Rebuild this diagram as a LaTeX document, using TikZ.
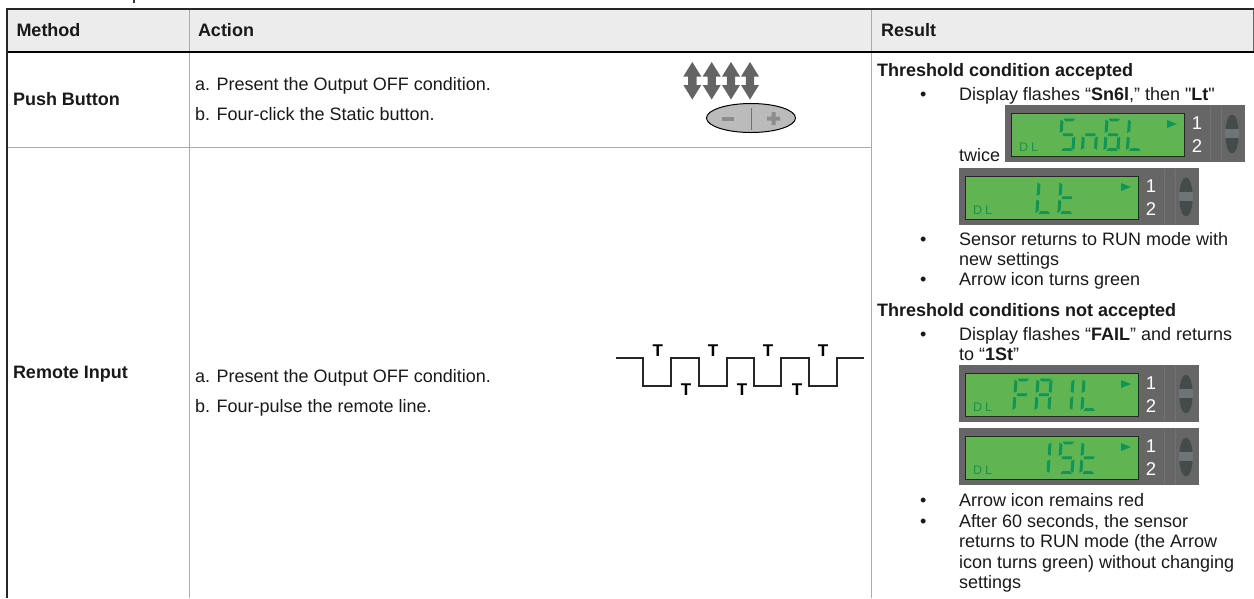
\documentclass[tikz,border=0pt]{standalone}
\usepackage{fontspec}
\setmainfont{Liberation Sans}[Ligatures=TeXOff]
\definecolor{hdr}{HTML}{ECECEC}
\definecolor{rule}{HTML}{ABABAB}
\definecolor{body}{HTML}{666666}
\definecolor{lcd}{HTML}{60B552}
\definecolor{seg}{HTML}{0F9558}
\definecolor{arrowgr}{HTML}{646464}
\definecolor{btn}{HTML}{BBBBBB}
\definecolor{rockdark}{HTML}{434B4B}
\definecolor{rockband}{HTML}{6E7575}
\tikzset{
  txt/.style={anchor=base west,inner sep=0pt,outer sep=0pt,font=\fontsize{18}{18}\selectfont,text=black!90},
  head/.style={txt,font=\fontsize{18}{18}\selectfont\bfseries},
  tick/.style={anchor=center,inner sep=0pt,font=\fontsize{17}{17}\selectfont\bfseries},
}
\newcommand\dsega{\fill[seg] (1.5,-1.5) -- (13,-1.5) -- (11,1.5) -- (3.5,1.5) -- cycle;}
\newcommand\dsegb{\fill[seg] (11.5,1.5) -- (14.5,-.5) -- (14.5,14) -- (11.5,12.5) -- cycle;}
\newcommand\dsegc{\fill[seg] (11.5,19.5) -- (14.5,18) -- (14.5,32.5) -- (11.5,30.5) -- cycle;}
\newcommand\dsegd{\fill[seg] (3.5,30.5) -- (11,30.5) -- (13,33.5) -- (1.5,33.5) -- cycle;}
\newcommand\dsege{\fill[seg] (-1.5,18) -- (1.5,19.5) -- (1.5,30.5) -- (-1.5,32.5) -- cycle;}
\newcommand\dsegf{\fill[seg] (-1.5,-.5) -- (1.5,1.5) -- (1.5,12.5) -- (-1.5,14) -- cycle;}
\newcommand\dsegg{\fill[seg] (2,14.5) -- (12,14.5) -- (12,17.5) -- (2,17.5) -- cycle;}
% seven-segment digit: x, y, list of segments a..g
\newcommand\sevseg[3]{%
  \begin{scope}[shift={(#1+2,#2+1)},xslant=.07,yscale=.92]
    \foreach \s in {#3}{\csname dseg\s\endcsname}%
  \end{scope}}
% display panel: x, y, name
\newcommand\panel[3]{%
  \begin{scope}[shift={(#1,#2)}]
    \fill[body] (0,0) rectangle (240,57);
    \filldraw[fill=lcd,draw=black!85,line width=.8pt] (6.5,8.3) rectangle (179,51.7);
    \draw[black!55,line width=.8pt] (205,1) -- (205,56) (216,1) -- (216,56);
    \fill[rockdark] (227,29) ellipse (6.7 and 19.5);
    \fill[rockband] (220.3,23.5) -- (233.7,23.5) -- (233.7,33) -- (220.3,33) -- cycle;
    \fill[seg] (162,15) -- (172,19) -- (162,23) -- cycle;
    \node[anchor=base west,inner sep=0pt,text=seg,font=\fontsize{12.5}{12.5}\selectfont] (#3-dl) at (14,46.5) {D\kern3pt L};
    \node[anchor=center,inner sep=0pt,text=white,font=\fontsize{18.5}{18.5}\selectfont] (#3-one) at (192,18) {1};
    \node[anchor=center,inner sep=0pt,text=white,font=\fontsize{18.5}{18.5}\selectfont] (#3-two) at (192,41.5) {2};
  \end{scope}}
\newcommand\updown[1]{%
  \fill[arrowgr] (#1,62) -- (#1+9,76.5) -- (#1+4.2,76.5) -- (#1+4.2,85) -- (#1+9,85) -- (#1,99.5)
     -- (#1-9,85) -- (#1-4.2,85) -- (#1-4.2,76.5) -- (#1-9,76.5) -- cycle;}
\begin{document}
\begin{tikzpicture}[x=1pt,y=-1pt]
\useasboundingbox (0,0) rectangle (1254,598);
% header band and table rules
\fill[hdr] (7,8) rectangle (1253,52);
\draw[rule,line width=1pt] (189.5,8) -- (189.5,598);
\draw[rule,line width=1pt] (871.5,8) -- (871.5,598);
\draw[rule,line width=1pt] (7,147) -- (871.5,147);
\draw[body,line width=1pt] (1253.5,8) -- (1253.5,52);
\draw[black!85,line width=2pt] (6,8.5) -- (1254,8.5);
\draw[black,line width=2.4pt] (6,52) -- (1254,52);
\draw[black!85,line width=2.6pt] (7,7.5) -- (7,598);
% cut-off descender above the table
\fill[black!80] (133,0) rectangle (135,3);
% headers
\node[head] (hm) at (16.5,36) {Method};
\node[head] (ha) at (198,36) {Action};
\node[head] (hr) at (881,36) {Result};
% methods
\node[head] (m1) at (13,105) {Push Button};
\node[head] (m2) at (13,378) {Remote Input};
% actions
\node[txt] (a1) at (195,90) {a. Present the Output OFF condition.};
\node[txt] (a2) at (195,120) {b. Four-click the Static button.};
\node[txt] (a3) at (195,382) {a. Present the Output OFF condition.};
\node[txt] (a4) at (195,412) {b. Four-pulse the remote line.};
% push button icon
\updown{692.3}\updown{711.7}\updown{731}\updown{750}
\filldraw[fill=btn,draw=black,line width=1pt] (751,118) ellipse (44.5 and 14.5);
\draw[black!55,line width=1pt] (751,108) -- (751,130);
\fill[black!45] (722,117) rectangle (734,120.5);
\fill[black!45] (767,116.5) rectangle (780,120.5) (771.5,112) rectangle (775.5,125);
% pulse train
\draw[black!85,line width=1.2pt] (616,358) -- (643,358) -- (643,386) -- (671,386) -- (671,358) -- (699,358)
  -- (699,386) -- (727,386) -- (727,358) -- (754,358) -- (754,386) -- (781,386) -- (781,358) -- (809,358)
  -- (809,386) -- (837,386) -- (837,358) -- (864,358);
\foreach \i/\x in {1/657.7,2/713,3/768,4/823}{\node[tick] (tu\i) at (\x,351) {T};}
\foreach \i/\x in {1/686,2/742,3/797}{\node[tick] (td\i) at (\x,390) {T};}
% result column
\node[head] (r1) at (877,76) {Threshold condition accepted};
\node[txt] (b1) at (920,100) {•};
\node[txt] (t1) at (959,100) {Display flashes “\textbf{Sn6l},” then "\textbf{Lt}"};
\node[txt] (t2) at (959,161.5) {twice};
\panel{1005}{105}{pa}
\sevseg{1060}{119}{a,f,g,c,d}
\sevseg{1082.5}{119}{e,g,c}
\sevseg{1105}{119}{a,f,e,g,c,d}
\sevseg{1127.5}{119}{f,e,d}
\panel{959}{168}{pb}
\sevseg{1037}{182}{f,e,d}
\sevseg{1059}{182}{f,e,g,d}
\node[txt] (b2) at (920,245.5) {•};
\node[txt] (t3) at (959,245.5) {Sensor returns to RUN mode with};
\node[txt] (t4) at (959,265.5) {new settings};
\node[txt] (b3) at (920,285.5) {•};
\node[txt] (t5) at (959,285.5) {Arrow icon turns green};
\node[head] (r2) at (877,316) {Threshold conditions not accepted};
\node[txt] (b4) at (920,340) {•};
\node[txt] (t6) at (959,340) {Display flashes “\textbf{FAIL}” and returns};
\node[txt] (t7) at (959,360) {to “\textbf{1St}”};
\panel{959}{365}{pc}
\sevseg{1014}{379}{a,f,e,g}
\sevseg{1036}{379}{a,b,c,e,f,g}
\sevseg{1058}{379}{c,b}
\sevseg{1082}{379}{f,e,d}
\panel{959}{428}{pd}
\sevseg{1035}{442}{b,c}
\sevseg{1059}{442}{a,f,g,c,d}
\sevseg{1081}{442}{f,e,g,d}
\node[txt] (b5) at (920,506) {•};
\node[txt] (t8) at (959,506) {Arrow icon remains red};
\node[txt] (b6) at (920,527) {•};
\node[txt] (t9) at (959,527) {After 60 seconds, the sensor};
\node[txt] (t10) at (959,547) {returns to RUN mode (the Arrow};
\node[txt] (t11) at (959,568) {icon turns green) without changing};
\node[txt] (t12) at (959,588) {settings};
\end{tikzpicture}
\end{document}
